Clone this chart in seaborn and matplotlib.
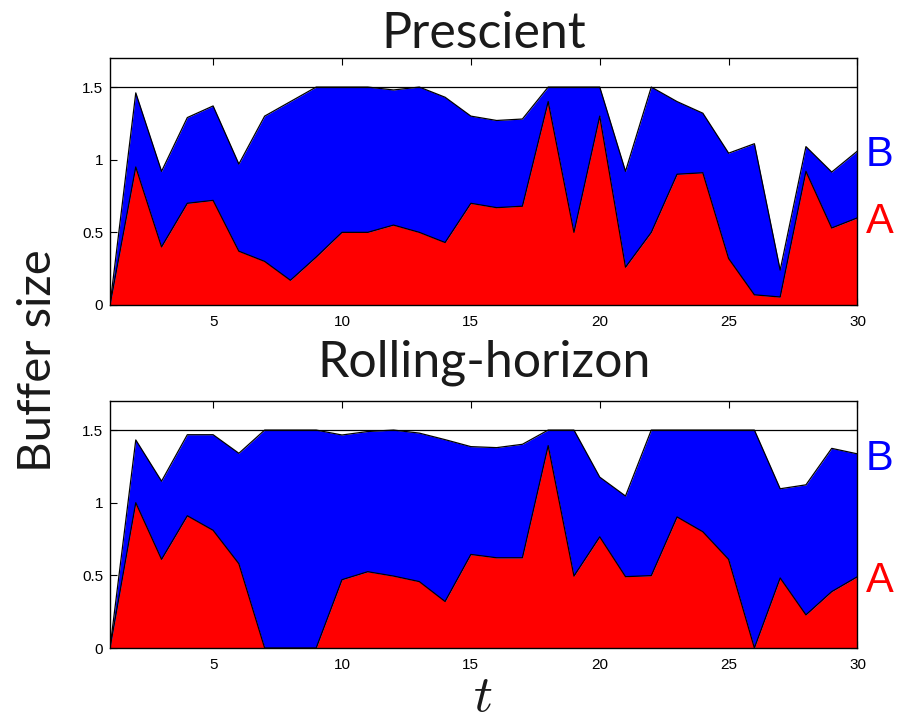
import numpy as np
import pandas as pd
import matplotlib
matplotlib.use("Agg")
import matplotlib.pyplot as plt
import seaborn as sns

# ---- data ----
t = list(range(1, 31))
prescient_A = [0, 0.95, 0.40, 0.70, 0.72, 0.37, 0.30, 0.17, 0.33, 0.50,
               0.50, 0.55, 0.50, 0.43, 0.70, 0.67, 0.68, 1.40, 0.50, 1.30,
               0.26, 0.50, 0.90, 0.91, 0.32, 0.07, 0.055, 0.92, 0.53, 0.60]
prescient_B = [0, 0.51, 0.52, 0.59, 0.65, 0.60, 1.00, 1.23, 1.17, 1.00,
               1.00, 0.93, 1.00, 1.00, 0.60, 0.60, 0.60, 0.10, 1.00, 0.20,
               0.66, 1.00, 0.50, 0.41, 0.725, 1.04, 0.185, 0.17, 0.385, 0.46]
rolling_A = [0, 1.00, 0.61, 0.91, 0.81, 0.58, 0, 0, 0, 0.47,
             0.525, 0.495, 0.457, 0.32, 0.644, 0.621, 0.621, 1.393, 0.495, 0.765,
             0.491, 0.498, 0.902, 0.80, 0.61, 0, 0.482, 0.228, 0.388, 0.491]
rolling_B = [0, 0.432, 0.538, 0.558, 0.658, 0.76, 1.5, 1.5, 1.5, 0.996,
             0.965, 1.005, 1.022, 1.114, 0.742, 0.758, 0.781, 0.107, 1.005, 0.411,
             0.555, 1.002, 0.598, 0.70, 0.89, 1.5, 0.614, 0.895, 0.986, 0.845]
capacity = 1.5
titles = ["Prescient", "Rolling-horizon"]
xticks = [5, 10, 15, 20, 25, 30]
yticks = [0, 0.5, 1, 1.5]
ytick_labels = ["0", "0.5", "1", "1.5"]

sns.set_style("ticks")
plt.rcParams["font.family"] = ["Liberation Sans", "DejaVu Sans"]
plt.rcParams["mathtext.fontset"] = "cm"

W, H = 908, 726
fig = plt.figure(figsize=(W / 100, H / 100), dpi=100)

def fx(px):
    return px / W

def fy(py):
    return 1 - py / H

axes_px = [(58, 305), (401, 648)]
left_px, right_px = 110, 857.5
title_baselines = [48, 377]
B_baselines = [166, 470]
A_baselines = [233, 592]

series = [(prescient_A, prescient_B), (rolling_A, rolling_B)]

for i, (top, bot) in enumerate(axes_px):
    ax = fig.add_axes([fx(left_px), fy(bot), fx(right_px - left_px), (bot - top) / H])
    A_vals, B_vals = series[i]
    df = pd.DataFrame({"t": t, "A": A_vals, "B": B_vals})
    df["total"] = df["A"] + df["B"]
    ax.fill_between(df["t"], 0, df["A"], color="#ff0000", linewidth=0, zorder=1)
    ax.fill_between(df["t"], df["A"], df["total"], color="#0000ff", linewidth=0, zorder=1)
    sns.lineplot(data=df, x="t", y="A", color="black", linewidth=0.9, ax=ax, zorder=2)
    sns.lineplot(data=df, x="t", y="total", color="black", linewidth=0.9, ax=ax, zorder=2)
    ax.axhline(capacity, color="black", linewidth=0.9, zorder=3)
    ax.set_xlim(1, 30)
    ax.set_ylim(0, 1.7)
    ax.set_xticks(xticks)
    ax.set_yticks(yticks)
    ax.set_yticklabels(ytick_labels)
    ax.set_xlabel("")
    ax.set_ylabel("")
    ax.tick_params(direction="in", top=True, right=True, length=5, width=0.8,
                   labelsize=11, colors="black")
    ax.tick_params(axis="x", pad=7)
    ax.tick_params(axis="y", pad=5)
    for s in ax.spines.values():
        s.set_visible(True)
        s.set_color("black")
        s.set_linewidth(1.0)
        s.set_zorder(5)
    fig.text(fx((left_px + right_px) / 2), fy(title_baselines[i]), titles[i],
             ha="center", va="baseline", fontsize=36, family=["Lato", "DejaVu Sans"],
             fontweight="normal", color="#1a1a1a")
    fig.text(fx(866), fy(B_baselines[i]), "B", ha="left", va="baseline",
             fontsize=30, color="#0000ff")
    fig.text(fx(866), fy(A_baselines[i]), "A", ha="left", va="baseline",
             fontsize=30, color="#ff0000")

fig.text(fx(38), fy(361), "Buffer size", rotation=90, ha="center", va="center",
         fontsize=34, family=["Lato", "DejaVu Sans"], fontweight="normal",
         color="#1a1a1a")
fig.text(fx(483), fy(722), r"$t$", ha="center", va="bottom", fontsize=38,
         color="#1a1a1a")

fig.savefig("out.png", dpi=100)
